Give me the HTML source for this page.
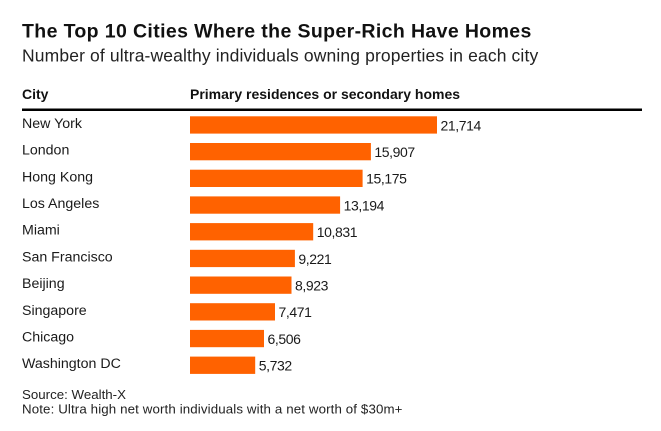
<!DOCTYPE html>
<html>
<head>
<meta charset="utf-8">
<style>
html,body{margin:0;padding:0;background:#fff;}
svg{display:block;}
text{font-family:"Liberation Sans",Arial,sans-serif;}
</style>
</head>
<body>
<svg width="661" height="431" viewBox="0 0 661 431" xmlns="http://www.w3.org/2000/svg">
<rect x="0" y="0" width="661" height="431" fill="#fff"/>
<text x="22" y="37.3" font-size="19.5" font-weight="bold" letter-spacing="0.37" fill="#111">The Top 10 Cities Where the Super-Rich Have Homes</text>
<text x="22" y="61.7" font-size="17.5" letter-spacing="0.13" fill="#222">Number of ultra-wealthy individuals owning properties in each city</text>
<text x="22" y="99" font-size="14" font-weight="bold" fill="#111">City</text>
<text x="190" y="99" font-size="14" font-weight="bold" fill="#111">Primary residences or secondary homes</text>
<rect x="22" y="108.5" width="620" height="2.5" fill="#000"/>
<g fill="#ff6200">
<rect x="190" y="116.3" width="247.0" height="17.3"/>
<rect x="190" y="143.0" width="180.9" height="17.3"/>
<rect x="190" y="169.7" width="172.6" height="17.3"/>
<rect x="190" y="196.4" width="150.1" height="17.3"/>
<rect x="190" y="223.1" width="123.2" height="17.3"/>
<rect x="190" y="249.8" width="104.9" height="17.3"/>
<rect x="190" y="276.5" width="101.5" height="17.3"/>
<rect x="190" y="303.2" width="85.0" height="17.3"/>
<rect x="190" y="329.9" width="74.0" height="17.3"/>
<rect x="190" y="356.6" width="65.2" height="17.3"/>
</g>
<g font-size="14.2" fill="#1a1a1a">
<text x="22" y="127.9">New York</text>
<text x="22" y="154.6">London</text>
<text x="22" y="181.3">Hong Kong</text>
<text x="22" y="208.0">Los Angeles</text>
<text x="22" y="234.7">Miami</text>
<text x="22" y="261.4">San Francisco</text>
<text x="22" y="288.1">Beijing</text>
<text x="22" y="314.8">Singapore</text>
<text x="22" y="341.5">Chicago</text>
<text x="22" y="368.2">Washington DC</text>
</g>
<g font-size="14" letter-spacing="-0.4" fill="#1a1a1a">
<text x="440.5" y="130.3">21,714</text>
<text x="374.4" y="157.0">15,907</text>
<text x="366.1" y="183.7">15,175</text>
<text x="343.6" y="210.4">13,194</text>
<text x="316.7" y="237.1">10,831</text>
<text x="298.4" y="263.8">9,221</text>
<text x="295.0" y="290.5">8,923</text>
<text x="278.5" y="317.2">7,471</text>
<text x="267.5" y="343.9">6,506</text>
<text x="258.7" y="370.6">5,732</text>
</g>
<text x="22" y="399" font-size="13.3" fill="#222">Source: Wealth-X</text>
<text x="22" y="413.3" font-size="13.3" letter-spacing="0.12" fill="#222">Note: Ultra high net worth individuals with a net worth of $30m+</text>
</svg>
</body>
</html>
